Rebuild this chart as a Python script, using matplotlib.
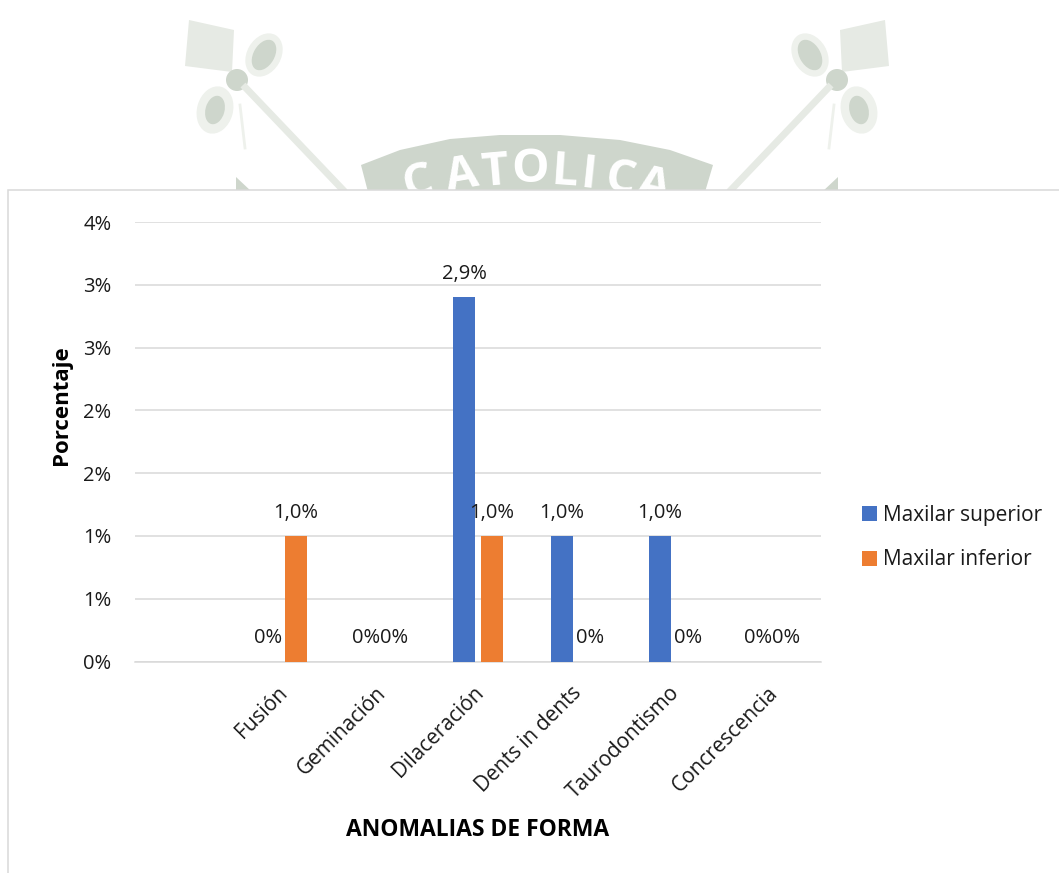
import matplotlib
matplotlib.use('Agg')
import matplotlib.pyplot as plt
from matplotlib.patches import Ellipse, Polygon, Rectangle, Circle

categorias = ['', 'Fusión', 'Geminación', 'Dilaceración', 'Dents in dents', 'Taurodontismo', 'Concrescencia']
superior = [0, 0, 0, 2.9, 1.0, 1.0, 0]
inferior = [0, 1.0, 0, 1.0, 0, 0, 0]
etiq_superior = ['', '0%', '0%', '2,9%', '1,0%', '1,0%', '0%']
etiq_inferior = ['', '1,0%', '0%', '1,0%', '0%', '0%', '0%']
y_ticks = [0, 0.5, 1, 1.5, 2, 2.5, 3, 3.5]
y_labels = ['0%', '1%', '1%', '2%', '2%', '3%', '3%', '4%']

AZUL = '#4472c4'
NARANJA = '#ed7d31'
GRIS = '#d9d9d9'
TEXTO = '#1a1a1a'
W, H = 1059, 873

plt.rcParams['font.family'] = ['Open Sans', 'DejaVu Sans']

fig = plt.figure(figsize=(W / 100, H / 100), dpi=100)

# fondo: marca de agua y marco del grafico, en pixeles
bg = fig.add_axes([0, 0, 1, 1], zorder=0)
bg.set_xlim(0, W)
bg.set_ylim(H, 0)
bg.axis('off')

C_CLARO = '#e6eae4'
C_HALO = '#eef1ec'
C_MEDIO = '#ced6cc'
for s in (1, -1):
    mx = lambda x: x if s == 1 else 1074 - x
    bg.add_patch(Polygon([(mx(189), 20), (mx(234), 30), (mx(232), 72), (mx(185), 66)], color=C_CLARO, lw=0))
    bg.add_patch(Ellipse((mx(264), 55), 34, 46, angle=30 * s, color=C_HALO, lw=0))
    bg.add_patch(Ellipse((mx(264), 55), 21, 33, angle=30 * s, color=C_MEDIO, lw=0))
    bg.add_patch(Ellipse((mx(215), 110), 36, 48, angle=15 * s, color=C_HALO, lw=0))
    bg.add_patch(Ellipse((mx(215), 110), 19, 29, angle=15 * s, color=C_MEDIO, lw=0))
    bg.add_patch(Circle((mx(237), 80), 11, color=C_MEDIO, lw=0))
    bg.plot([mx(243), mx(345)], [85, 192], color=C_CLARO, lw=5, solid_capstyle='butt')
    bg.plot([mx(240), mx(245)], [105, 148], color=C_HALO, lw=2)
    bg.add_patch(Polygon([(mx(236), 177), (mx(252), 192), (mx(236), 192)], color=C_MEDIO, lw=0))

arco = [(361, 165), (400, 150), (450, 139), (500, 135), (560, 135), (620, 140), (670, 150), (713, 165),
        (705, 192), (368, 192)]
bg.add_patch(Polygon(arco, color=C_MEDIO, lw=0))
letras = ['C', 'A', 'T', 'O', 'L', 'I', 'C', 'A']
xs = [418, 462, 496, 530, 565, 589, 620, 654]
ys = [183, 176, 172, 170, 172, 175, 180, 186]
angs = [14, 10, 5, 0, -4, -6, -9, -13]
for l, x, y, a in zip(letras, xs, ys, angs):
    bg.text(x, y, l, color='white', fontsize=34, ha='center', va='center', rotation=a, fontweight='bold')

bg.add_patch(Rectangle((8, 190), W, H, facecolor='white', edgecolor=GRIS, lw=1.1, zorder=3))

# grafico de barras
ax = fig.add_axes([135 / W, 1 - 661.5 / H, 686 / W, 439.5 / H], zorder=1)
ax.patch.set_alpha(0)
pos = list(range(len(categorias)))
off = 0.143
ancho = 0.224
b1 = ax.bar([p - off for p in pos], superior, ancho, color=AZUL, label='Maxilar superior', zorder=3)
b2 = ax.bar([p + off for p in pos], inferior, ancho, color=NARANJA, label='Maxilar inferior', zorder=3)
ax.bar_label(b1, labels=etiq_superior, padding=9.5, fontsize=14.5, color=TEXTO, zorder=4)
ax.bar_label(b2, labels=etiq_inferior, padding=9.5, fontsize=14.5, color=TEXTO, zorder=4)

ax.set_xlim(-0.5, 6.5)
ax.set_ylim(0, 3.5)
ax.set_yticks(y_ticks)
ax.set_yticklabels(y_labels, fontsize=14.5, color=TEXTO)
# las etiquetas rotadas van un poco a la izquierda del centro de la categoria
ax.set_xticks([p - 0.05 for p in pos])
ax.set_xticklabels(categorias, fontsize=15, color=TEXTO, rotation=45, ha='right', rotation_mode='anchor')
ax.tick_params(axis='both', length=0)
ax.tick_params(axis='y', pad=17)
ax.tick_params(axis='x', pad=15)
ax.grid(axis='y', color=GRIS, lw=1.1, zorder=0)
ax.set_axisbelow(True)
for lado in ['top', 'right', 'left']:
    ax.spines[lado].set_visible(False)
ax.spines['bottom'].set_color(GRIS)
ax.spines['bottom'].set_linewidth(1.1)

fig.text(62 / W, 1 - 405 / H, 'Porcentaje', rotation=90, fontsize=16, fontweight='bold',
         color='black', ha='center', va='center')
fig.text(478 / W, 1 - 830 / H, 'ANOMALIAS DE FORMA', fontsize=16.5, fontweight='bold',
         color='black', ha='center', va='center')

handles, labels = ax.get_legend_handles_labels()
fig.legend(handles, labels, loc='center left', bbox_to_anchor=(843 / W, 1 - 537.5 / H), frameon=False,
           fontsize=15, handlelength=0.72, handleheight=0.72, handletextpad=0.29, labelspacing=1.14,
           labelcolor=TEXTO)

plt.savefig('out.png', dpi=100)
